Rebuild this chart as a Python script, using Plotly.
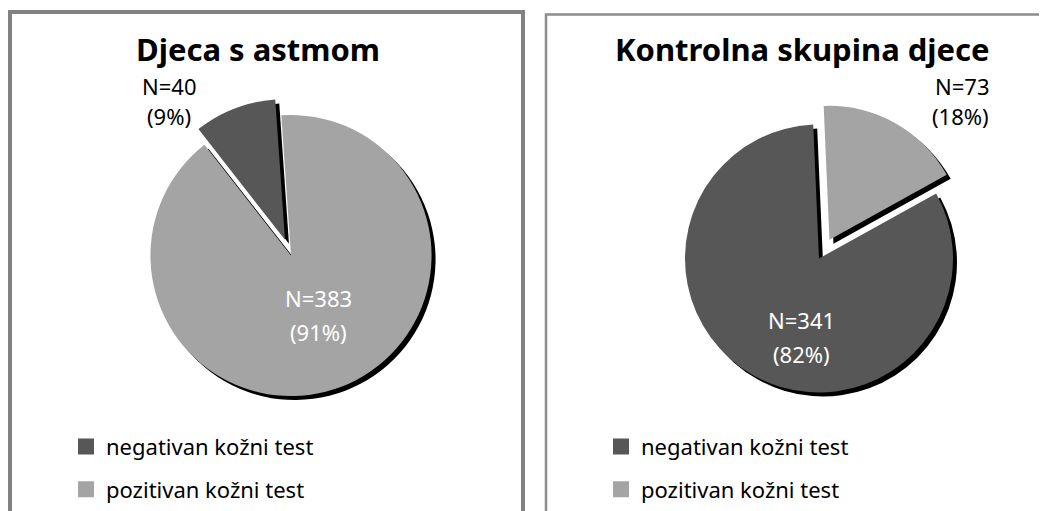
import plotly.graph_objects as go

# ---------------- data ----------------
categories = ["negativan kožni test", "pozitivan kožni test"]
asthma_counts = [40, 383]      # Djeca s astmom
control_counts = [341, 73]     # Kontrolna skupina djece
titles = ["Djeca s astmom", "Kontrolna skupina djece"]

# ---------------- styles ----------------
slice_colors = ["#575757", "#a4a4a4"]
shadow_color = "#000000"
PAGE_OFF = 8                 # default body margin of the html page
W, H = 1047 - PAGE_OFF, 511 - PAGE_OFF
FONT = "Noto Sans"


def px(x):
    """page pixel x -> paper coordinate"""
    return (x - PAGE_OFF) / W


def py(y):
    """page pixel y -> paper coordinate"""
    return 1 - (y - PAGE_OFF) / H


def pct(counts):
    tot = sum(counts)
    return [round(100 * c / tot) for c in counts]


fig = go.Figure()

panels = [
    dict(cx=291, cy=258, half=159, rot=-38, pull=[0.12, 0], legend="legend", counts=asthma_counts),
    dict(cx=819, cy=261, half=157, rot=61, pull=[0, 0.16], legend="legend2", counts=control_counts),
]

sh = 4  # shadow offset in px
for p in panels:
    # shadow pie
    fig.add_trace(go.Pie(
        labels=categories, values=p["counts"], sort=False, direction="clockwise",
        rotation=p["rot"], pull=p["pull"], textinfo="none", hoverinfo="skip",
        marker=dict(colors=[shadow_color, shadow_color]), showlegend=False,
        domain=dict(x=[px(p["cx"] - p["half"] + sh), px(p["cx"] + p["half"] + sh)],
                    y=[py(p["cy"] + p["half"] + sh), py(p["cy"] - p["half"] + sh)]),
    ))
    # main pie
    fig.add_trace(go.Pie(
        labels=categories, values=p["counts"], sort=False, direction="clockwise",
        rotation=p["rot"], pull=p["pull"], textinfo="none",
        marker=dict(colors=slice_colors), showlegend=False,
        domain=dict(x=[px(p["cx"] - p["half"]), px(p["cx"] + p["half"])],
                    y=[py(p["cy"] + p["half"]), py(p["cy"] - p["half"])]),
    ))
    # legend entries
    for i, (cat, col) in enumerate(zip(categories, slice_colors)):
        fig.add_trace(go.Scatter(
            x=[None], y=[None], mode="markers", name=cat,
            marker=dict(symbol="square", size=16, color=col),
            legend=p["legend"], legendgroup=f"{p['legend']}_{i}", showlegend=True,
            hoverinfo="skip",
        ))

annotations = []
# titles
for t, x, y in zip(titles, [258, 802], [49, 49]):
    annotations.append(dict(text=f"<b>{t}</b>", x=px(x), y=py(y), xref="paper", yref="paper",
                            showarrow=False, xanchor="center", yanchor="middle",
                            font=dict(family=FONT, size=31, color="#000000")))

# data labels
a_pct = pct(asthma_counts)
c_pct = pct(control_counts)
label_specs = [
    ([f"N={asthma_counts[0]}", f"({a_pct[0]}%)"], 169, [87, 117], "center", "#000000"),
    ([f"N={asthma_counts[1]}", f"({a_pct[1]}%)"], 318, [301, 335], "center", "#ffffff"),
    ([f"N={control_counts[0]}", f"({c_pct[0]}%)"], 801, [323, 357], "center", "#ffffff"),
    ([f"N={control_counts[1]}", f"({c_pct[1]}%)"], 991, [87, 117], "right", "#000000"),
]
for lines, x, ys, anchor, col in label_specs:
    for line, y in zip(lines, ys):
        annotations.append(dict(text=line, x=px(x), y=py(y), xref="paper", yref="paper",
                                showarrow=False, xanchor=anchor, yanchor="middle",
                                font=dict(family=FONT, size=22, color=col)))

shapes = [
    dict(type="rect", xref="paper", yref="paper", x0=px(10), x1=px(523), y0=py(530), y1=py(12),
         line=dict(color="#828282", width=4), fillcolor="rgba(0,0,0,0)", layer="below"),
    dict(type="rect", xref="paper", yref="paper", x0=px(546), x1=px(1070), y0=py(530), y1=py(14.5),
         line=dict(color="#8c8c8c", width=2.5), fillcolor="rgba(0,0,0,0)", layer="below"),
]

legend_common = dict(xanchor="left", yanchor="top", orientation="v", traceorder="grouped",
                     tracegroupgap=11, bgcolor="rgba(0,0,0,0)", borderwidth=0,
                     font=dict(family=FONT, size=22, color="#000000"))

fig.update_layout(
    width=W, height=H, autosize=False,
    margin=dict(l=0, r=0, t=0, b=0),
    paper_bgcolor="#ffffff", plot_bgcolor="#ffffff",
    xaxis=dict(visible=False), yaxis=dict(visible=False),
    annotations=annotations, shapes=shapes,
    legend=dict(x=px(66), y=py(430), **legend_common),
    legend2=dict(x=px(601), y=py(430), **legend_common),
    font=dict(family=FONT),
)

fig.write_html("out.html")
